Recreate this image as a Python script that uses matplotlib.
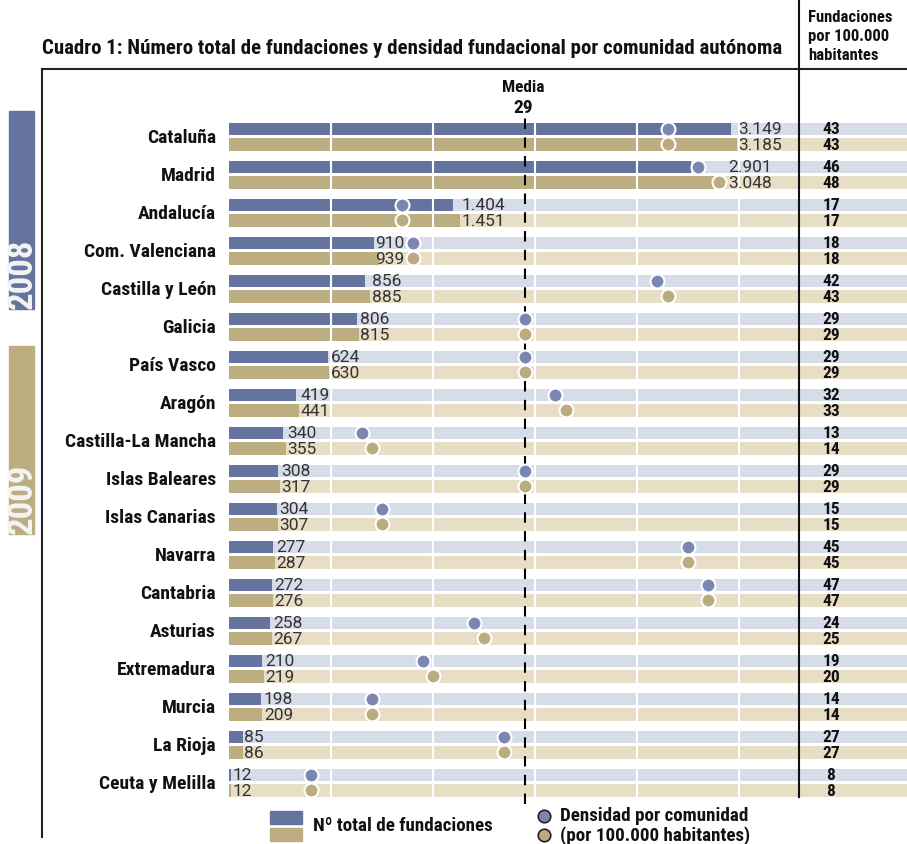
import matplotlib
matplotlib.use("Agg")
import matplotlib.pyplot as plt
import matplotlib.transforms as mtransforms
from matplotlib.lines import Line2D
from matplotlib.patches import Rectangle

plt.rcParams['font.family'] = ['Roboto Condensed', 'DejaVu Sans Condensed', 'Liberation Sans Narrow',
                               'Roboto', 'DejaVu Sans']

# data
communities = ["Cataluña", "Madrid", "Andalucía", "Com. Valenciana", "Castilla y León",
               "Galicia", "País Vasco", "Aragón", "Castilla-La Mancha", "Islas Baleares",
               "Islas Canarias", "Navarra", "Cantabria", "Asturias", "Extremadura",
               "Murcia", "La Rioja", "Ceuta y Melilla"]
total_2008 = [3149, 2901, 1404, 910, 856, 806, 624, 419, 340, 308, 304, 277, 272, 258, 210, 198, 85, 12]
total_2009 = [3185, 3048, 1451, 939, 885, 815, 630, 441, 355, 317, 307, 287, 276, 267, 219, 209, 86, 12]
density_2008 = [43, 46, 17, 18, 42, 29, 29, 32, 13, 29, 15, 45, 47, 24, 19, 14, 27, 8]
density_2009 = [43, 48, 17, 18, 43, 29, 29, 33, 14, 29, 15, 45, 47, 25, 20, 14, 27, 8]
media = 29
grid_density = [10, 20, 30, 40, 50]

BLUE = '#65739f'
GOLD = '#bdae82'
BLUE_DOT = '#7b87b1'
GOLD_DOT = '#bcab7f'
BLUE_BAND = '#d6dce8'
GOLD_BAND = '#e8dec6'

W, H = 907, 845
fig = plt.figure(figsize=(W / 100, H / 100), dpi=100)


def fx(x):
    return x / W


def fy(y):
    return 1 - y / H


# scales (pixels per unit)
PX_COUNT = 0.1594
PX_DENS = 10.2
X0, X1 = 229, 907
Y_TOP, Y_BOT = 118, 805
ROW = 38.0
ROW0 = 137.75

ax = fig.add_axes([fx(X0), fy(Y_BOT), (X1 - X0) / W, (Y_BOT - Y_TOP) / H])
ax.set_xlim(0, (X1 - X0) / PX_COUNT)
ax.set_ylim((Y_BOT - ROW0) / ROW, (Y_TOP - ROW0) / ROW)
ax.axis('off')
ax2 = ax.twiny()
ax2.set_xlim(0, (X1 - X0) / PX_DENS)
ax2.axis('off')

off = 7.75 / ROW
bh = 12.5 / ROW
n = len(communities)
xmax = ax.get_xlim()[1]
for i in range(n):
    ax.barh(i - off, xmax, height=bh, color=BLUE_BAND, zorder=1)
    ax.barh(i + off, xmax, height=bh, color=GOLD_BAND, zorder=1)
ax.barh([i - off for i in range(n)], total_2008, height=bh, color=BLUE, zorder=2)
ax.barh([i + off for i in range(n)], total_2009, height=bh, color=GOLD, zorder=2)

for g in grid_density:
    ax2.axvline(g, color='white', lw=1.5, zorder=1)
ax2.axvline(media, color='black', lw=1.5, ls=(0, (5, 4)), zorder=2)

ax2.scatter(density_2008, [i - off for i in range(n)], s=100, color=BLUE_DOT,
            edgecolor='white', linewidth=1.5, zorder=4)
ax2.scatter(density_2009, [i + off for i in range(n)], s=100, color=GOLD_DOT,
            edgecolor='white', linewidth=1.5, zorder=4)

# value labels (drawn on ax2 so they sit above the grid lines)
renderer = fig.canvas.get_renderer()
ratio = PX_DENS / PX_COUNT
r = 7 / PX_COUNT
pad = 1.5 / PX_COUNT
for i in range(n):
    ends = [total_2008[i], total_2009[i]]
    dots = [density_2008[i] * ratio, density_2009[i] * ratio]
    lx = max(ends) + pad
    if any(abs(d - e) < r for d, e in zip(dots, ends)):
        lx = max(dots) + r + 2 * pad
    texts = []
    for v, yy in [(total_2008[i], i - off), (total_2009[i], i + off)]:
        texts.append(ax2.text(lx, yy, f"{v:,}".replace(',', '.'), transform=ax.transData,
                              ha='left', va='center', fontsize=12.5,
                              family=['Roboto', 'DejaVu Sans'], color='#333333', zorder=3))
    # keep a label clear of a dot sitting just to its right
    width = max(t.get_window_extent(renderer).width for t in texts) / PX_COUNT
    right_dots = [d for d in dots if lx < d - r < lx + width]
    if right_dots:
        new_right = min(right_dots) - r - pad
        if new_right - width > min(ends) - 4 / PX_COUNT:
            for t in texts:
                t.set_x(new_right)
                t.set_ha('right')

# community names and right column
trans = mtransforms.blended_transform_factory(fig.transFigure, ax.transData)
for i, name in enumerate(communities):
    ax.text(fx(216), i, name, transform=trans, ha='right', va='center',
            fontsize=14, fontweight='bold', color='#111111')
    ax2.text(fx(831), i - off, str(density_2008[i]), transform=trans, ha='center',
             va='center', fontsize=12.5, fontweight='bold', color='#111111', zorder=5)
    ax2.text(fx(831), i + off, str(density_2009[i]), transform=trans, ha='center',
             va='center', fontsize=12.5, fontweight='bold', color='#111111', zorder=5)

# frame lines
fig.add_artist(Line2D([fx(42), fx(907)], [fy(70), fy(70)], color='#222222', lw=1.5))
fig.add_artist(Line2D([fx(42), fx(42)], [fy(70), fy(838)], color='#222222', lw=1.5))
fig.add_artist(Line2D([fx(799), fx(799)], [fy(0), fy(798)], color='#111111', lw=1.5, zorder=10))

# titles
fig.text(fx(42), fy(48), "Cuadro 1: Número total de fundaciones y densidad fundacional por comunidad autónoma",
         ha='left', va='center', fontsize=15, fontweight='bold', color='#111111')
for txt, yy in [("Fundaciones", 17), ("por 100.000", 36), ("habitantes", 55)]:
    fig.text(fx(808), fy(yy), txt, ha='left', va='center', fontsize=12,
             fontweight='bold', color='#111111')
fig.text(fx(523), fy(88), "Media", ha='center', va='center', fontsize=12.5,
         fontweight='bold', color='#111111')
fig.text(fx(523), fy(108), str(media), ha='center', va='center', fontsize=14,
         fontweight='bold', color='#111111')

# year tabs
for (y0, y1), col, year in [((112, 310), BLUE, "2008"), ((347, 535), GOLD, "2009")]:
    fig.add_artist(Rectangle((fx(9), fy(y1)), 25 / W, (y1 - y0) / H,
                             transform=fig.transFigure, color=col))
    fig.text(fx(22), fy(y1 - 1), year, rotation=90, ha='center', va='bottom',
             fontsize=25, fontweight='bold', color='#f4f4f4')

# legend
fig.add_artist(Rectangle((fx(270), fy(825)), 32 / W, 13 / H, transform=fig.transFigure, color=BLUE))
fig.add_artist(Rectangle((fx(270), fy(842)), 32 / W, 13 / H, transform=fig.transFigure, color=GOLD))
fig.text(fx(313), fy(826), "Nº total de fundaciones", ha='left', va='center',
         fontsize=13.7, fontweight='bold', color='#111111')
fig.add_artist(Line2D([fx(544)], [fy(817)], marker='o', markersize=9,
                      markerfacecolor=BLUE_DOT, markeredgecolor='#222222', markeredgewidth=1.2))
fig.add_artist(Line2D([fx(544)], [fy(836)], marker='o', markersize=9,
                      markerfacecolor=GOLD_DOT, markeredgecolor='#222222', markeredgewidth=1.2))
fig.text(fx(560), fy(816), "Densidad por comunidad", ha='left', va='center',
         fontsize=13.7, fontweight='bold', color='#111111')
fig.text(fx(560), fy(836), "(por 100.000 habitantes)", ha='left', va='center',
         fontsize=13.7, fontweight='bold', color='#111111')

fig.savefig("out.png", dpi=100)
